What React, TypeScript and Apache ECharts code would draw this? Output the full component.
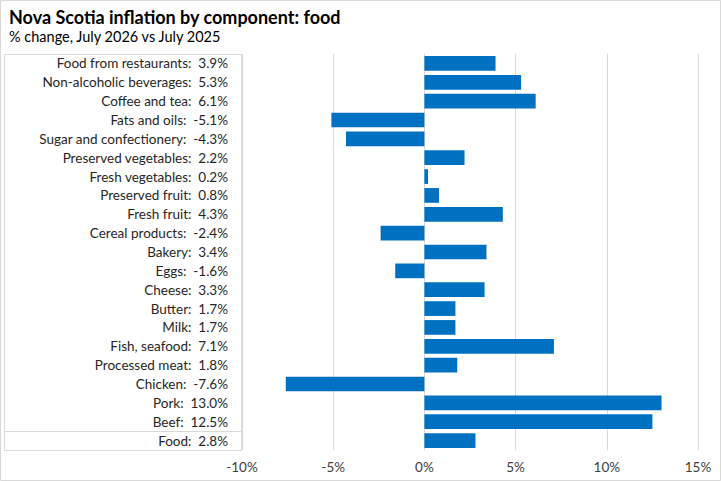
import React, { useEffect, useRef } from "react";
import * as echarts from "echarts";

const categories = [
  "Food from restaurants",
  "Non-alcoholic beverages",
  "Coffee and tea",
  "Fats and oils",
  "Sugar and confectionery",
  "Preserved vegetables",
  "Fresh vegetables",
  "Preserved fruit",
  "Fresh fruit",
  "Cereal products",
  "Bakery",
  "Eggs",
  "Cheese",
  "Butter",
  "Milk",
  "Fish, seafood",
  "Processed meat",
  "Chicken",
  "Pork",
  "Beef",
  "Food",
];
const values = [3.9, 5.3, 6.1, -5.1, -4.3, 2.2, 0.2, 0.8, 4.3, -2.4, 3.4, -1.6, 3.3, 1.7, 1.7, 7.1, 1.8, -7.6, 13.0, 12.5, 2.8];
const xMin = -10;
const xMax = 15;
const xInterval = 5;

const W = 721;
const H = 481;
const GRID_LEFT = 242;
const GRID_RIGHT = 23;
const GRID_TOP = 54;
const GRID_BOTTOM = 31;
const FONT = "Lato, 'Noto Sans', sans-serif";

export default function App() {
  const ref = useRef<HTMLDivElement>(null);
  useEffect(() => {
    if (!ref.current) return;
    const chart = echarts.init(ref.current, null, { renderer: "svg" });
    const plotH = H - GRID_TOP - GRID_BOTTOM;
    const band = plotH / categories.length;
    chart.setOption({
      animation: false,
      backgroundColor: "#ffffff",
      title: {
        text: "Nova Scotia inflation by component: food",
        subtext: "% change, July 2026 vs July 2025",
        left: 4,
        top: 3,
        itemGap: 3,
        textStyle: { fontFamily: FONT, fontSize: 18, fontWeight: "bold", color: "#000" },
        subtextStyle: { fontFamily: FONT, fontSize: 14.5, color: "#000" },
      },
      grid: { left: GRID_LEFT, right: GRID_RIGHT, top: GRID_TOP, bottom: GRID_BOTTOM, containLabel: false },
      xAxis: {
        type: "value",
        min: xMin,
        max: xMax,
        interval: xInterval,
        axisLine: { show: false },
        axisTick: { show: false },
        splitLine: { show: true, lineStyle: { color: "#d9d9d9", width: 1 } },
        axisLabel: {
          formatter: "{value}%",
          fontFamily: FONT,
          fontSize: 13.5,
          color: "#404040",
          margin: 10,
        },
      },
      yAxis: {
        type: "category",
        data: categories,
        inverse: true,
        axisLine: { show: false },
        axisTick: { show: false },
        splitLine: { show: false },
        axisLabel: {
          margin: 14,
          fontFamily: FONT,
          fontSize: 13.5,
          color: "#262626",
          formatter: (name: string, idx: number) => name + ":  " + values[idx].toFixed(1) + "%",
        },
      },
      series: [
        {
          type: "bar",
          data: values,
          barCategoryGap: "22%",
          itemStyle: { color: "#0070C0" },
        },
      ],
      graphic: [
        {
          type: "rect",
          silent: true,
          shape: { x: 0.5, y: 0.5, width: W - 1, height: H - 1 },
          style: { fill: "none", stroke: "#d9d9d9", lineWidth: 1 },
        },
        {
          type: "rect",
          silent: true,
          shape: { x: 4.5, y: GRID_TOP + 0.5, width: GRID_LEFT - 5, height: plotH },
          style: { fill: "none", stroke: "#d9d9d9", lineWidth: 1 },
        },
        {
          type: "line",
          silent: true,
          shape: { x1: 4.5, y1: Math.round(GRID_TOP + plotH - band) + 0.5, x2: GRID_LEFT - 0.5, y2: Math.round(GRID_TOP + plotH - band) + 0.5 },
          style: { stroke: "#d9d9d9", lineWidth: 1 },
        },
      ],
    });
    return () => chart.dispose();
  }, []);
  return <div ref={ref} style={{ position: "fixed", left: 0, top: 0, width: W, height: H }} />;
}
